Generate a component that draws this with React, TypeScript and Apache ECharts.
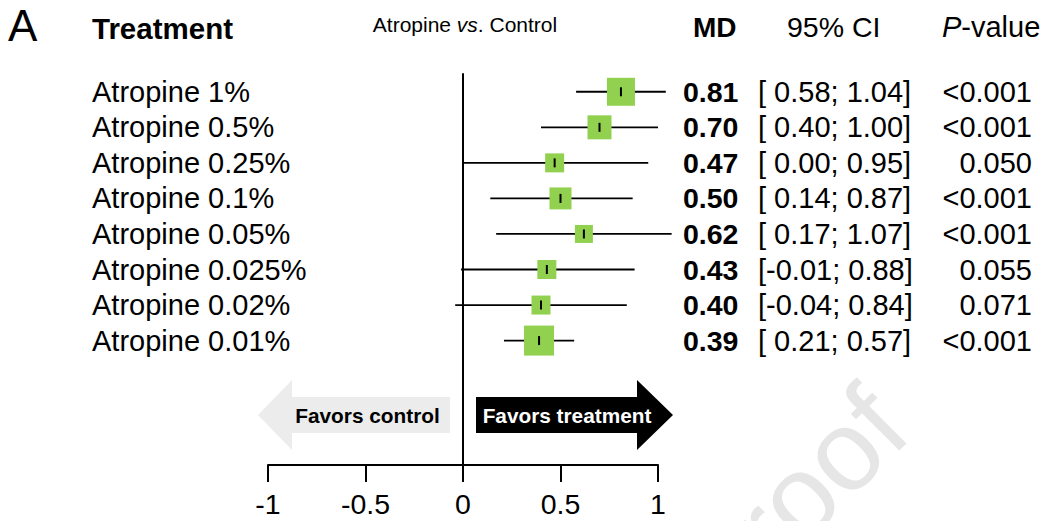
import React, { useEffect, useRef } from "react";
import * as echarts from "echarts";

const treatments = [
  "Atropine 1%",
  "Atropine 0.5%",
  "Atropine 0.25%",
  "Atropine 0.1%",
  "Atropine 0.05%",
  "Atropine 0.025%",
  "Atropine 0.02%",
  "Atropine 0.01%",
];
const meanDiff = [0.81, 0.7, 0.47, 0.5, 0.62, 0.43, 0.4, 0.39];
const ciLow = [0.58, 0.4, 0.0, 0.14, 0.17, -0.01, -0.04, 0.21];
const ciHigh = [1.04, 1.0, 0.95, 0.87, 1.07, 0.88, 0.84, 0.57];
const pValues = ["<0.001", "<0.001", "0.050", "<0.001", "<0.001", "0.055", "0.071", "<0.001"];
const weights = [14, 12, 9.5, 11, 9, 9.5, 9.5, 15];
const xTicks = [-1, -0.5, 0, 0.5, 1];

const FONT = "'Liberation Sans', Arial, Helvetica, sans-serif";

function fmtLow(v: number) {
  return v < 0 ? v.toFixed(2) : " " + v.toFixed(2);
}

function txt(text: string, x: number, y: number, size: number, opts: any = {}) {
  const align = opts.align || "left";
  const style: any = {
    text,
    x: 0,
    y: 0,
    fontSize: size,
    fontFamily: FONT,
    fontWeight: opts.bold ? "bold" : "normal",
    fontStyle: opts.italic ? "italic" : "normal",
    fill: opts.fill || "#000",
    align,
    textAlign: align,
    verticalAlign: "middle",
    textVerticalAlign: "middle",
  };
  if (opts.rich) style.rich = opts.rich;
  return { type: "text", x, y, silent: true, style, z: opts.z ?? 10 };
}

export default function App() {
  const ref = useRef<HTMLDivElement>(null);
  useEffect(() => {
    if (!ref.current) return;
    const chart = echarts.init(ref.current, undefined, { renderer: "svg" });
    const data = treatments.map((_, i) => [i, meanDiff[i], ciLow[i], ciHigh[i], weights[i]]);

    const italicRich = (size: number) => ({
      i: { fontSize: size, fontFamily: FONT, fontStyle: "italic", fill: "#000" },
      n: { fontSize: size, fontFamily: FONT, fontStyle: "normal", fill: "#000" },
    });

    chart.setOption({
      animation: false,
      backgroundColor: "#fff",
      grid: { left: 268, right: 387, top: 74, bottom: 56, containLabel: false },
      xAxis: {
        type: "value",
        min: -1,
        max: 1,
        interval: 0.5,
        axisLine: { show: true, onZero: false, lineStyle: { color: "#000", width: 2 } },
        axisTick: { show: true, inside: false, length: 17, lineStyle: { color: "#000", width: 2 } },
        splitLine: { show: false },
        axisLabel: {
          margin: 24,
          fontSize: 28.5,
          fontFamily: FONT,
          color: "#000",
          formatter: (v: number) => (xTicks.includes(v) ? String(v) : ""),
        },
      },
      yAxis: {
        type: "value",
        inverse: true,
        min: -0.5,
        max: 10.5,
        axisLine: { show: true, onZero: true, lineStyle: { color: "#000", width: 2 } },
        axisTick: { show: false },
        axisLabel: { show: false },
        splitLine: { show: false },
      },
      series: [
        {
          type: "custom",
          clip: false,
          encode: { x: [1, 2, 3], y: 0 },
          data,
          renderItem: (params: any, api: any) => {
            const i = api.value(0);
            const m = api.value(1);
            const lo = api.value(2);
            const hi = api.value(3);
            const w = api.value(4);
            const y = api.coord([0, i])[1];
            const xm = api.coord([m, i])[0];
            const xl = api.coord([lo, i])[0];
            const xh = api.coord([hi, i])[0];
            const s = w * 2;
            return {
              type: "group",
              children: [
                { type: "line", shape: { x1: xl, y1: y, x2: xh, y2: y }, style: { stroke: "#000", lineWidth: 1.8 } },
                { type: "rect", shape: { x: xm - s / 2, y: y - s / 2, width: s, height: s }, style: { fill: "#92d050" } },
                { type: "line", shape: { x1: xm, y1: y - 4.5, x2: xm, y2: y + 4.5 }, style: { stroke: "#000", lineWidth: 2 } },
                txt(treatments[i], 92, y, 29),
                txt(m.toFixed(2), 683, y, 28.5, { bold: true }),
                txt("[" + fmtLow(lo) + "; " + hi.toFixed(2) + "]", 758, y, 29),
                txt(pValues[i], 1032, y, 29, { align: "right" }),
              ],
            };
          },
        },
      ],
      graphic: [
        {
          type: "text",
          x: 694,
          y: 600,
          rotation: Math.PI / 4,
          silent: true,
          z: 0,
          style: {
            text: "Proof",
            fontSize: 114,
            fontFamily: FONT,
            fill: "#e6e6e6",
            align: "left",
            textAlign: "left",
            verticalAlign: "middle",
            textVerticalAlign: "middle",
          },
        },
        txt("A", 8, 25, 44),
        txt("Treatment", 92, 28, 29.5, { bold: true }),
        txt("{n|Atropine }{i|vs}{n|. Control}", 465, 24.5, 21, { align: "center", rich: italicRich(21) }),
        txt("MD", 693, 27, 28, { bold: true }),
        txt("95% CI", 787, 27, 28.5),
        txt("{i|P}{n|-value}", 942, 27, 29, { rich: italicRich(29) }),
        {
          type: "polygon",
          silent: true,
          z: 5,
          shape: {
            points: [
              [258, 415],
              [292, 380],
              [292, 397],
              [450, 397],
              [450, 433],
              [292, 433],
              [292, 450],
            ],
          },
          style: { fill: "#ececec" },
        },
        {
          type: "polygon",
          silent: true,
          z: 5,
          shape: {
            points: [
              [476, 397],
              [637, 397],
              [637, 380],
              [673, 415],
              [637, 450],
              [637, 433],
              [476, 433],
            ],
          },
          style: { fill: "#000" },
        },
        txt("Favors control", 367.5, 415, 20.8, { bold: true, align: "center" }),
        txt("Favors treatment", 567, 415, 20.8, { bold: true, align: "center", fill: "#fff" }),
      ],
    });
    return () => chart.dispose();
  }, []);
  return (
    <div
      ref={ref}
      style={{ position: "absolute", left: 0, top: 0, width: 1045, height: 521, background: "#fff" }}
    />
  );
}
